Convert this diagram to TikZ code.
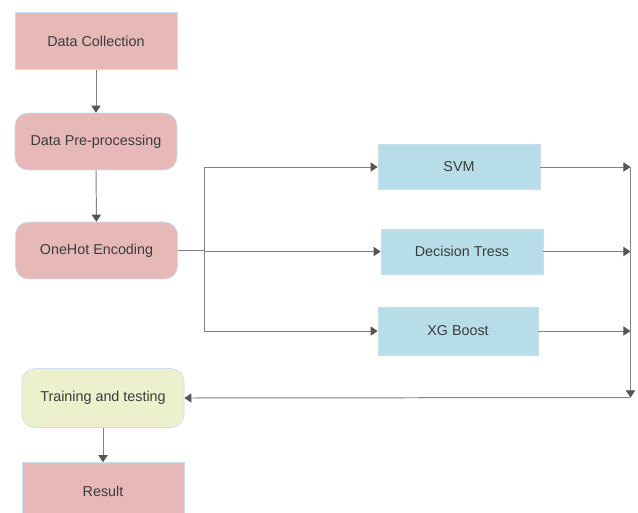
\documentclass[tikz,border=0pt]{standalone}
\usepackage{fontspec}
\setmainfont{Liberation Sans}
\usetikzlibrary{positioning, arrows.meta, calc}
\definecolor{pinkbox}{RGB}{230,184,183}
\definecolor{bluebox}{RGB}{183,221,232}
\definecolor{greenbox}{RGB}{236,240,205}
\definecolor{boxline}{RGB}{205,222,236}
\definecolor{txt}{RGB}{60,60,60}
\definecolor{wire}{RGB}{130,130,130}
\definecolor{tip}{RGB}{85,85,85}
\begin{document}
\begin{tikzpicture}[x=0.025cm, y=-0.025cm,
	box/.style={draw=boxline, line width=0.5pt, text=txt, font=\fontsize{10.2}{12}\selectfont, minimum width=4.05cm},
	stage/.style={box, fill=pinkbox, minimum height=1.42cm},
	soft/.style={rounded corners=0.32cm},
	model/.style={box, fill=bluebox, minimum height=1.12cm},
	wire/.style={draw=wire, line width=0.7pt},
	arr/.style={wire, -{Triangle[length=5pt, width=6.5pt, color=tip]}}]
		
		\clip (0,0) rectangle (638,513);
		
		\node[stage] (coll) at (96,41) {Data Collection};
		\node[stage, soft] (prep) at (96,141.5) {Data Pre-processing};
		\node[stage, soft] (enc) at (96.5,250.5) {OneHot Encoding};
		\node[model] (svm) at (459,167) {SVM};
		\node[model] (dt) at (462,251.5) {Decision Tress};
		\node[model, minimum height=1.2cm, minimum width=4cm] (xgb) at (458,331) {XG Boost};
		\node[box, soft, fill=greenbox, minimum height=1.47cm] (train) at (103,398) {Training and testing};
		\node[stage] (res) at (103,491) {Result};
		
		\coordinate (split) at (204,250.5);
		\coordinate (merge) at (630.5,397.5);
		
		\draw[arr] (coll) -- (prep);
		\draw[arr] (prep) -- (enc);
		\draw[wire] (enc.east) -- (split);
		\draw[wire] (svm.west -| split) -- (xgb.west -| split);
		\draw[arr] (svm.west -| split) -- (svm.west);
		\draw[arr] (dt.west -| split) -- (dt.west);
		\draw[arr] (xgb.west -| split) -- (xgb.west);
		
		\draw[arr] (svm.east) -- (svm.east -| merge);
		\draw[arr] (dt.east) -- (dt.east -| merge);
		\draw[arr] (xgb.east) -- (xgb.east -| merge);
		\draw[arr] (svm.east -| merge) -- (merge);
		\draw[arr] (merge) -- (train.east);
		\draw[arr] (train) -- (res);
		
		\end{tikzpicture}
\end{document}
